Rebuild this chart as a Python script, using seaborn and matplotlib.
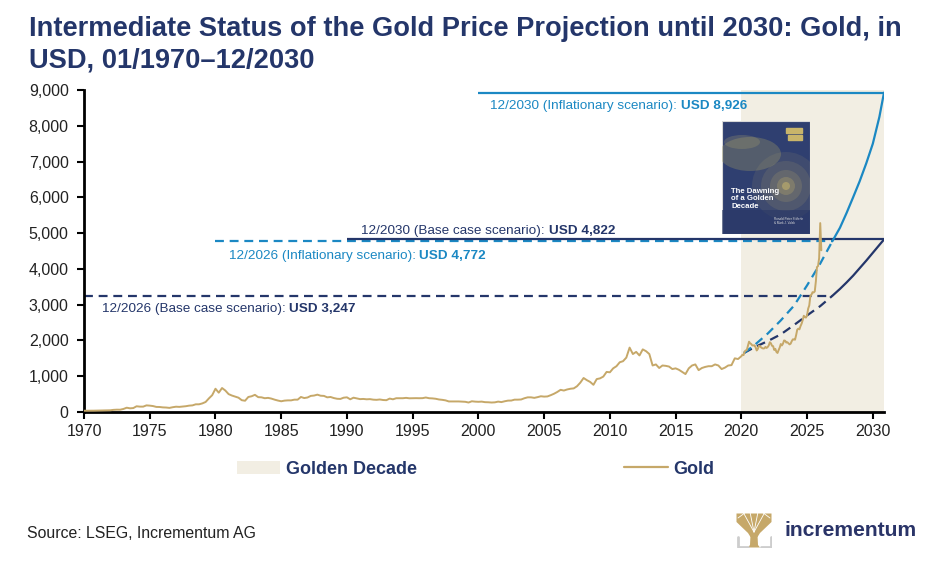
import numpy as np
import pandas as pd
import matplotlib
matplotlib.use("Agg")
import matplotlib.pyplot as plt
import matplotlib.patches as mpatches
from matplotlib.lines import Line2D
from matplotlib.offsetbox import TextArea, HPacker, AnnotationBbox
import seaborn as sns

# ---------------- data ----------------
# Gold price, quarterly, 1970Q1 .. 2019Q4 (USD/oz)
gold_quarterly = [
    35, 35, 36, 37,        # 1970
    39, 40, 42, 43,        # 1971
    48, 60, 65, 64,        # 1972
    85, 120, 103, 110,     # 1973
    160, 150, 150, 185,    # 1974
    178, 166, 142, 140,    # 1975
    129, 125, 115, 134,    # 1976
    148, 143, 152, 162,    # 1977
    178, 185, 215, 215,    # 1978
    240, 280, 380, 470,    # 1979
    650, 540, 670, 600,    # 1980
    500, 460, 430, 400,    # 1981
    330, 315, 420, 440,    # 1982
    480, 415, 410, 385,    # 1983
    395, 375, 345, 320,    # 1984
    300, 318, 325, 325,    # 1985
    345, 345, 420, 390,    # 1986
    405, 450, 460, 485,    # 1987
    455, 450, 410, 420,    # 1988
    390, 370, 365, 400,    # 1989
    410, 355, 400, 380,    # 1990
    360, 365, 355, 360,    # 1991
    345, 340, 350, 335,    # 1992
    330, 375, 355, 385,    # 1993
    385, 385, 395, 383,    # 1994
    385, 387, 385, 387,    # 1995
    405, 385, 380, 370,    # 1996
    350, 340, 325, 295,    # 1997
    295, 295, 295, 290,    # 1998
    285, 265, 300, 290,    # 1999
    285, 290, 275, 272,    # 2000
    265, 270, 290, 277,    # 2001
    300, 318, 320, 345,    # 2002
    345, 350, 385, 410,    # 2003
    410, 395, 415, 440,    # 2004
    430, 435, 470, 510,    # 2005
    560, 620, 600, 630,    # 2006
    650, 660, 720, 820,    # 2007
    950, 890, 840, 760,    # 2008
    920, 940, 990, 1120,   # 2009
    1110, 1220, 1280, 1390,  # 2010
    1420, 1520, 1800, 1620,  # 2011
    1680, 1580, 1750, 1700,  # 2012
    1620, 1300, 1330, 1230,  # 2013
    1300, 1290, 1270, 1200,  # 2014
    1220, 1180, 1120, 1060,  # 2015
    1220, 1300, 1330, 1170,  # 2016
    1230, 1260, 1280, 1280,  # 2017
    1330, 1300, 1200, 1240,  # 2018
    1300, 1310, 1500, 1480,  # 2019
]
# Gold price, monthly, 2020-01 .. 2026-02
gold_monthly = [
    1560, 1600, 1590, 1690, 1720, 1735, 1850, 1965, 1920, 1900, 1860, 1860,  # 2020
    1865, 1810, 1720, 1760, 1850, 1840, 1805, 1785, 1775, 1780, 1820, 1790,  # 2021
    1815, 1860, 1950, 1920, 1850, 1840, 1735, 1765, 1680, 1650, 1730, 1800,  # 2022
    1900, 1860, 1910, 2000, 1990, 1940, 1950, 1920, 1890, 1910, 1980, 2030,  # 2023
    2030, 2020, 2150, 2300, 2330, 2310, 2400, 2470, 2570, 2690, 2650, 2640,  # 2024
    2710, 2890, 2980, 3250, 3280, 3350, 3340, 3370, 3650, 4050, 4080, 4300,  # 2025
    5280, 4520,                                                              # 2026
]

# Projection paths (decimal year, USD)
base_dash_years = [2020.2, 2021.0, 2022.0, 2023.0, 2024.0, 2025.0, 2026.0, 2026.92]
base_dash_vals = [1650, 1810, 1980, 2170, 2430, 2700, 2960, 3247]
base_solid_years = [2026.92, 2027.5, 2028.0, 2028.5, 2029.0, 2029.5, 2030.0, 2030.5, 2030.85]
base_solid_vals = [3247, 3440, 3620, 3810, 4020, 4230, 4450, 4670, 4822]
infl_dash_years = [2020.2, 2021.0, 2022.0, 2023.0, 2024.0, 2025.0, 2026.0, 2026.92]
infl_dash_vals = [1650, 1870, 2190, 2560, 2970, 3540, 4150, 4772]
infl_solid_years = [2026.92, 2027.5, 2028.0, 2028.5, 2029.0, 2029.5, 2030.0, 2030.5, 2030.85]
infl_solid_vals = [4772, 5150, 5560, 6000, 6450, 6950, 7500, 8250, 8926]

# Target levels
targets = ["12/2026 (Base case scenario)", "12/2026 (Inflationary scenario)",
           "12/2030 (Base case scenario)", "12/2030 (Inflationary scenario)"]
target_vals = [3247, 4772, 4822, 8926]

golden_decade = [2020.0, 2030.85]
x_ticks = [1970, 1975, 1980, 1985, 1990, 1995, 2000, 2005, 2010, 2015, 2020, 2025, 2030]
y_ticks = [0, 1000, 2000, 3000, 4000, 5000, 6000, 7000, 8000, 9000]

# ---------------- style ----------------
NAVY = "#24366a"
BLUE = "#1b88c3"
GOLD = "#c6a869"
SHADE = "#f2eee3"
TXT = "#222222"

sns.set_theme(style="ticks")
plt.rcParams["font.family"] = ["Liberation Sans", "DejaVu Sans"]

W, H = 948, 582
fig = plt.figure(figsize=(W / 100, H / 100), dpi=100)
fig.patch.set_facecolor("white")


def fx(px):
    return px / W


def fy(py):
    return 1 - py / H


ax = fig.add_axes([fx(84), fy(412), fx(884) - fx(84), fy(90) - fy(412)])
ax.set_facecolor("white")

q_dates = 1970 + np.arange(len(gold_quarterly)) / 4.0
m_dates = 2020 + np.arange(len(gold_monthly)) / 12.0
gold_df = pd.DataFrame({
    "year": np.concatenate([q_dates, m_dates]),
    "price": gold_quarterly + gold_monthly,
})

# Golden decade shading
ax.axvspan(golden_decade[0], golden_decade[1], color=SHADE, lw=0, zorder=0)

DASH = (0, (4, 2.6))
# target lines
ax.hlines(target_vals[0], 1970, 2026.92, colors=NAVY, linestyles=DASH, lw=1.6, zorder=2)
ax.hlines(target_vals[1], 1980, 2026.92, colors=BLUE, linestyles=DASH, lw=1.6, zorder=2)
ax.hlines(target_vals[2], 1990, 2030.85, colors=NAVY, linestyles="-", lw=1.6, zorder=2)
ax.hlines(target_vals[3], 2000, 2030.85, colors=BLUE, linestyles="-", lw=1.6, zorder=2)

# projections
sns.lineplot(x=base_dash_years, y=base_dash_vals, ax=ax, color=NAVY, lw=1.6,
             linestyle=DASH, zorder=3)
sns.lineplot(x=infl_dash_years, y=infl_dash_vals, ax=ax, color=BLUE, lw=1.6,
             linestyle=DASH, zorder=3)
sns.lineplot(x=base_solid_years, y=base_solid_vals, ax=ax, color=NAVY, lw=1.6, zorder=3)
sns.lineplot(x=infl_solid_years, y=infl_solid_vals, ax=ax, color=BLUE, lw=1.6, zorder=3)

# gold
sns.lineplot(data=gold_df, x="year", y="price", ax=ax, color=GOLD, lw=1.4, zorder=4)

ax.set_xlim(1970, 2030.85)
ax.set_ylim(0, 9000)
ax.set_xticks(x_ticks)
ax.set_yticks(y_ticks)
ax.set_yticklabels([f"{v:,}" for v in y_ticks])
ax.set_xlabel("")
ax.set_ylabel("")
for s in ["top", "right"]:
    ax.spines[s].set_visible(False)
for s in ["left", "bottom"]:
    ax.spines[s].set_color("black")
    ax.spines[s].set_linewidth(2.0)
ax.tick_params(axis="both", direction="out", length=5, width=1.5, color="black",
               labelsize=11.5, labelcolor=TXT)
ax.tick_params(axis="y", pad=6)
ax.tick_params(axis="x", pad=4)
ax.grid(False)


# annotations with mixed weights
def two_part(x, y, normal, bold, color, fs=9.7):
    ta = TextArea(normal, textprops=dict(color=color, fontsize=fs))
    tb = TextArea(bold, textprops=dict(color=color, fontsize=fs, fontweight="bold"))
    pack = HPacker(children=[ta, tb], align="baseline", pad=0, sep=0)
    ab = AnnotationBbox(pack, (x, y), xycoords="data", box_alignment=(0, 0.5),
                        frameon=False, pad=0, zorder=6)
    ax.add_artist(ab)


two_part(2000.9, 8540, targets[3] + ": ", f"USD {target_vals[3]:,}", BLUE)
two_part(1991.1, 5070, targets[2] + ": ", f"USD {target_vals[2]:,}", NAVY)
two_part(1981.0, 4360, targets[1] + ": ", f"USD {target_vals[1]:,}", BLUE)
two_part(1971.35, 2870, targets[0] + ": ", f"USD {target_vals[0]:,}", NAVY)

# title
fig.text(fx(29), fy(36.5), "Intermediate Status of the Gold Price Projection until 2030: Gold, in",
         ha="left", va="baseline", fontsize=19.6, fontweight="bold", color=NAVY)
fig.text(fx(29), fy(68), "USD, 01/1970\u201312/2030",
         ha="left", va="baseline", fontsize=19.6, fontweight="bold", color=NAVY)

# legend
h_patch = mpatches.Patch(facecolor=SHADE, edgecolor="none", label="Golden Decade")
h_line = Line2D([0], [0], color=GOLD, lw=1.6, label="Gold")
leg = fig.legend(handles=[h_patch, h_line], loc="center left",
                 bbox_to_anchor=(fx(237), fy(469)), ncol=2, frameon=False,
                 fontsize=13, handlelength=2.4, handleheight=0.75, handletextpad=0.3,
                 columnspacing=11.5, borderpad=0, borderaxespad=0)
for t in leg.get_texts():
    t.set_color(NAVY)
    t.set_fontweight("bold")

# source
fig.text(fx(27), fy(534), "Source: LSEG, Incrementum AG", ha="left", va="center",
         fontsize=11.4, color=TXT)

# logo text
fig.text(fx(785), fy(531), "incrementum", ha="left", va="center", fontsize=15.2,
         fontweight="bold", color="#2a3468")

# logo icon
lax = fig.add_axes([fx(736), fy(548), fx(772) - fx(736), fy(512) - fy(548)])
lax.set_xlim(0, 36)
lax.set_ylim(0, 36)
lax.axis("off")
lax.add_patch(mpatches.Polygon([[0.5, 34.5], [35.5, 34.5], [35.5, 26], [24, 15], [21.5, 11],
                                [14.5, 11], [12, 15], [0.5, 26]], color=GOLD, lw=0))
for tx in [7, 14, 22, 29]:
    lax.plot([18, tx], [16, 36], color="white", lw=0.6)
lax.plot([2, 10], [30, 36], color="white", lw=0.6)
lax.plot([34, 26], [30, 36], color="white", lw=0.6)
lax.add_patch(mpatches.Polygon([[14.5, 13], [21.5, 13], [22, 3], [24, 0.5], [12, 0.5], [14, 3]],
                               color=GOLD, lw=0))
lax.plot([1.5, 1.5, 11.5], [11, 1.2, 1.2], color="#cdcdcd", lw=2.0)
lax.plot([24.5, 34.5, 34.5], [1.2, 1.2, 11], color="#cdcdcd", lw=2.0)

# book cover
bax = fig.add_axes([fx(722), fy(234), fx(810) - fx(722), fy(121) - fy(234)])
bax.set_xlim(0, 88)
bax.set_ylim(0, 113)
bax.axis("off")
bax.set_zorder(7)
bax.add_patch(mpatches.Rectangle((0, 0), 88, 113, facecolor="#2f3f70", edgecolor="#d8d8d8", lw=0.8))
bax.add_patch(mpatches.Ellipse((28, 80), 62, 34, color="#9a9766", alpha=0.35, lw=0))
bax.add_patch(mpatches.Ellipse((20, 92), 36, 14, color="#b0a66e", alpha=0.25, lw=0))
for r, a in [(34, 0.10), (25, 0.12), (16, 0.16), (9, 0.25), (4, 0.5)]:
    bax.add_patch(mpatches.Circle((64, 48), r, color="#cdb96c", alpha=a, lw=0))
bax.add_patch(mpatches.Rectangle((0, 0), 88, 24, color="#2a3866", alpha=0.6, lw=0))
bax.add_patch(mpatches.Rectangle((64, 101), 16, 5, color="#c9b56a"))
bax.add_patch(mpatches.Rectangle((66, 94), 14, 5, color="#c9b56a"))
bax.text(9, 35, "The Dawning\nof a Golden\nDecade", color="white", fontsize=5.6,
         fontweight="bold", va="center", ha="left", linespacing=1.05)
bax.text(52, 13, "Ronald-Peter Stöferle\n& Mark J. Valek", color="#dddddd", fontsize=2.2,
         va="center", ha="left")

fig.savefig("out.png", dpi=100, facecolor="white")
